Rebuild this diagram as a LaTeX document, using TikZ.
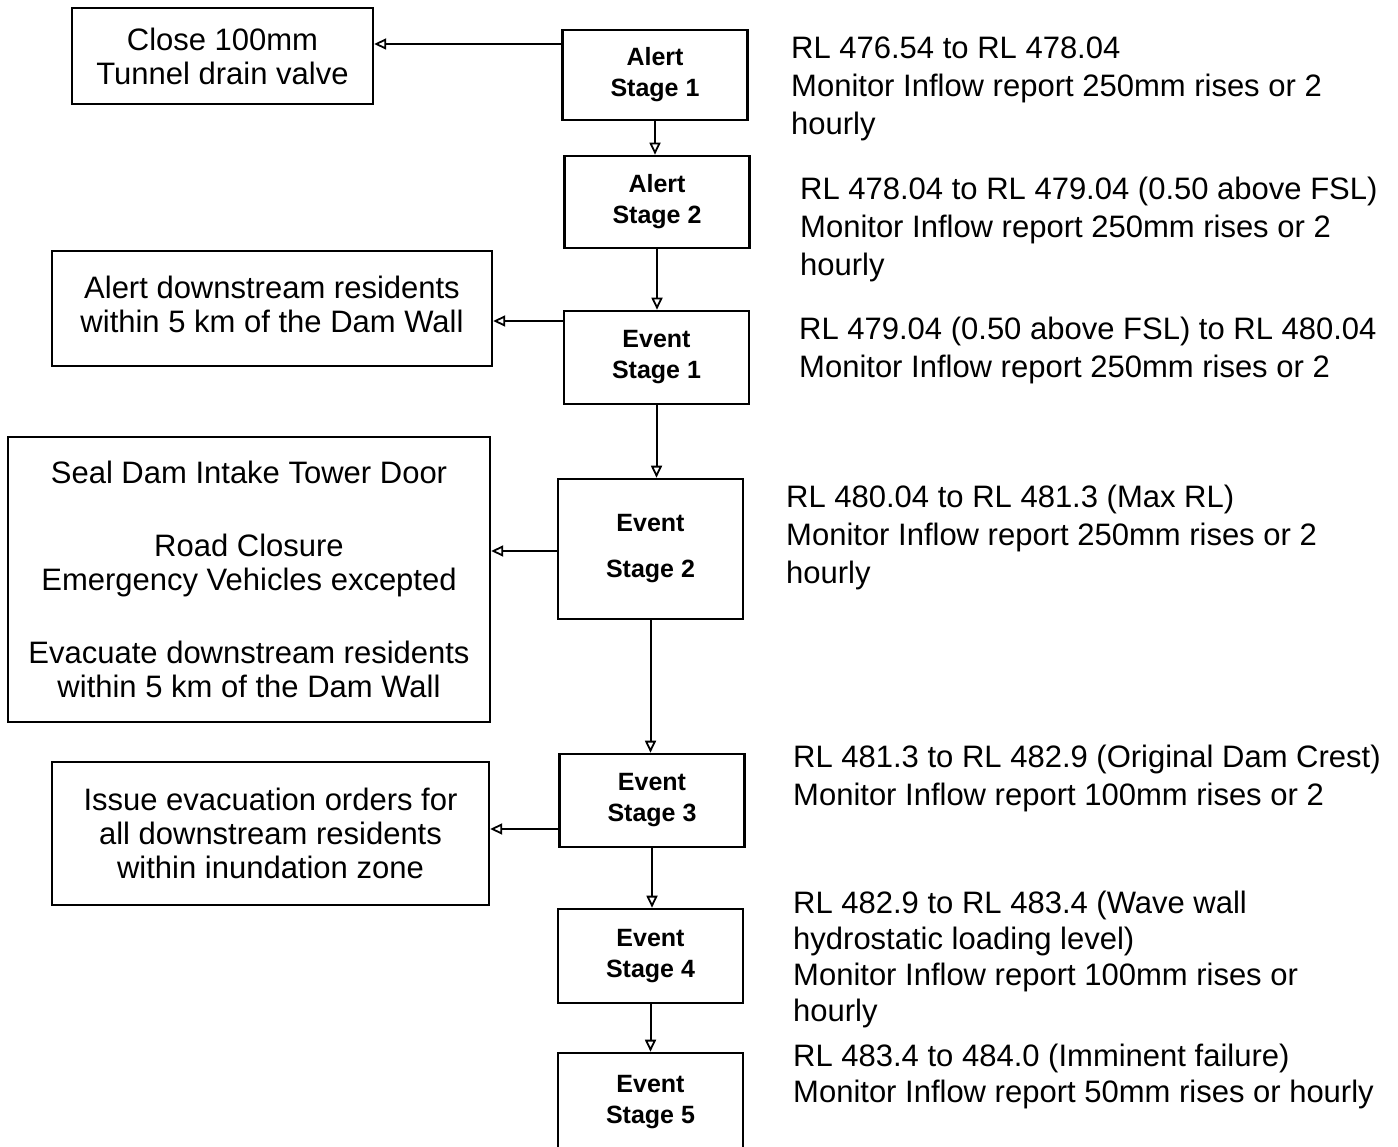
\documentclass[tikz,border=0pt]{standalone}
\usepackage{fontspec}
\setmainfont{Liberation Sans}
\usetikzlibrary{arrows.meta}
\begin{document}
\begin{tikzpicture}[x=1pt,y=-1pt,
  box/.style={draw, line width=2.4pt, align=center, font=\fontsize{31}{34}\selectfont, inner sep=0pt},
  stage/.style={draw, line width=2.6pt, align=center, font=\bfseries\fontsize{25}{31}\selectfont, inner sep=0pt, minimum width=185pt},
  note/.style={anchor=north west, align=left, inner sep=0pt, font=\fontsize{31}{38}\selectfont},
  arr/.style={line width=2pt, -{Triangle[open, length=12pt, width=11pt, line width=1.8pt]}}
]
\useasboundingbox (0,0) rectangle (1398,1147);
\fill[white] (0,0) rectangle (1398,1147);

% stage boxes
\node[stage, minimum height=90pt] (A1) at (655,75) {Alert\\Stage 1};
\node[stage, minimum height=92pt] (A2) at (657,202) {Alert\\Stage 2};
\node[stage, minimum height=93pt] (E1) at (656.5,357.5) {Event\\Stage 1};
\node[stage, minimum height=140pt] (E2) at (650.5,549) {Event\\[15pt]Stage 2};
\node[stage, minimum height=93pt] (E3) at (652,800.5) {Event\\Stage 3};
\node[stage, minimum height=94pt] (E4) at (650.5,956) {Event\\Stage 4};
\node[stage, minimum height=98pt] (E5) at (650.5,1102) {Event\\Stage 5};

% action boxes
\node[box, minimum width=301pt, minimum height=96pt] (close) at (222.5,56) {Close 100mm\\Tunnel drain valve};
\node[box, minimum width=440pt, minimum height=115pt] (alertres) at (272,308.5) {Alert downstream residents\\within 5 km of the Dam Wall\\[-26pt]};
\node[box, minimum width=482pt, minimum height=285pt] (big) at (249,579.5) {Seal Dam Intake Tower Door\\[39pt]Road Closure\\Emergency Vehicles excepted\\[39pt]Evacuate downstream residents\\within 5 km of the Dam Wall};
\node[box, minimum width=437pt, minimum height=143pt] (issue) at (270.5,833.5) {Issue evacuation orders for\\all downstream residents\\within inundation zone};

% vertical arrows
\draw[arr] (A1.south) -- (A1.south |- A2.north);
\draw[arr] (A2.south) -- (A2.south |- E1.north);
\draw[arr] (E1.south) -- (E1.south |- E2.north);
\draw[arr] (E2.south) -- (E2.south |- E3.north);
\draw[arr] (E3.south) -- (E3.south |- E4.north);
\draw[arr] (E4.south) -- (E4.south |- E5.north);

% horizontal arrows
\coordinate (h1) at ([yshift=31pt]A1.west);
\coordinate (h2) at ([yshift=36.5pt]E1.west);
\coordinate (h3) at ([yshift=-2pt]E2.west);
\coordinate (h4) at ([yshift=-28.5pt]E3.west);
\draw[arr] (h1) -- (h1 -| close.east);
\draw[arr] (h2) -- (h2 -| alertres.east);
\draw[arr] (h3) -- (h3 -| big.east);
\draw[arr] (h4) -- (h4 -| issue.east);

% level notes
\node[note] (t1) at (791,37) {RL 476.54 to RL 478.04\\Monitor Inflow report 250mm rises or 2\\hourly};
\node[note] (t2) at (800,177) {RL 478.04 to RL 479.04 (0.50 above FSL)\\Monitor Inflow report 250mm rises or 2\\hourly};
\node[note] (t3) at (799,317) {RL 479.04 (0.50 above FSL) to RL 480.04\\Monitor Inflow report 250mm rises or 2};
\node[note] (t4) at (786,485) {RL 480.04 to RL 481.3 (Max RL)\\Monitor Inflow report 250mm rises or 2\\hourly};
\node[note] (t5) at (793,745) {RL 481.3 to RL 482.9 (Original Dam Crest)\\Monitor Inflow report 100mm rises or 2};
\node[note, font=\fontsize{31}{36}\selectfont] (t6) at (793,891) {RL 482.9 to RL 483.4 (Wave wall\\hydrostatic loading level)\\Monitor Inflow report 100mm rises or\\hourly};
\node[note, font=\fontsize{31}{36}\selectfont] (t7) at (793,1044) {RL 483.4 to 484.0 (Imminent failure)\\Monitor Inflow report 50mm rises or hourly};
\end{tikzpicture}
\end{document}
